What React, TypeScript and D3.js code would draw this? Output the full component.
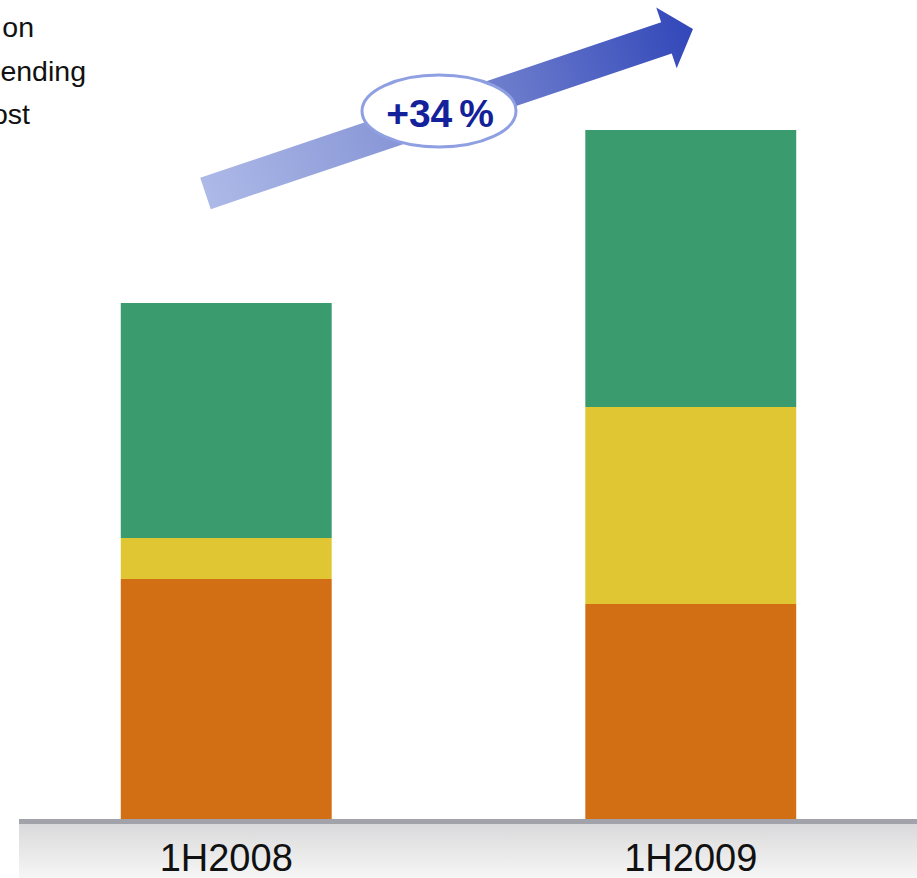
import { useEffect, useRef } from 'react';
import * as d3 from 'd3';

const periods = ['1H2008', '1H2009'];
const seriesKeys = ['cost', 'lending', 'commission'];
const costValues = [240, 215];
const lendingValues = [41, 197];
const commissionValues = [235, 277];
const legendLabels = ['on', 'ending', 'ost'];
const growthLabel = '+34 %';

const colors: Record<string, string> = {
  cost: '#d26f14',
  lending: '#e0c632',
  commission: '#3a9c6e',
};

export default function App() {
  const svgRef = useRef<SVGSVGElement>(null);

  useEffect(() => {
    if (!svgRef.current) return;
    const width = 917;
    const height = 878;
    const baseY = 819;

    const svg = d3.select(svgRef.current).attr('viewBox', `0 0 ${width} ${height}`);
    svg.selectAll('*').remove();

    const rows = periods.map((p, i) => ({
      period: p,
      cost: costValues[i],
      lending: lendingValues[i],
      commission: commissionValues[i],
    }));

    const x = d3.scaleBand<string>()
      .domain(periods)
      .range([0, width])
      .paddingInner(0.546)
      .paddingOuter(0.26);

    const y = d3.scaleLinear().domain([0, 700]).range([baseY, baseY - 700]);

    const stacked = d3.stack<any>().keys(seriesKeys)(rows);

    const defs = svg.append('defs');
    const floor = defs.append('linearGradient')
      .attr('id', 'floor').attr('x1', 0).attr('y1', 0).attr('x2', 0).attr('y2', 1);
    floor.append('stop').attr('offset', '0%').attr('stop-color', '#d9d9db');
    floor.append('stop').attr('offset', '100%').attr('stop-color', '#f6f6f6');

    const arrowLen = 514.5;
    const arrowGrad = defs.append('linearGradient')
      .attr('id', 'arrowGrad')
      .attr('gradientUnits', 'userSpaceOnUse')
      .attr('x1', 0).attr('y1', 0).attr('x2', arrowLen).attr('y2', 0);
    arrowGrad.append('stop').attr('offset', '0%').attr('stop-color', '#adb9e7');
    arrowGrad.append('stop').attr('offset', '50%').attr('stop-color', '#7d8cd2');
    arrowGrad.append('stop').attr('offset', '100%').attr('stop-color', '#3247b9');

    // bars
    svg.append('g')
      .selectAll('g')
      .data(stacked)
      .join('g')
      .attr('fill', d => colors[d.key])
      .selectAll('rect')
      .data(d => d)
      .join('rect')
      .attr('x', d => x(d.data.period)!)
      .attr('width', x.bandwidth())
      .attr('y', d => y(d[1]))
      .attr('height', d => y(d[0]) - y(d[1]));

    // floor band + axis line
    svg.append('rect')
      .attr('x', 19).attr('y', baseY + 4)
      .attr('width', width - 19).attr('height', height - baseY - 4)
      .attr('fill', 'url(#floor)');
    svg.append('rect')
      .attr('x', 19).attr('y', baseY)
      .attr('width', width - 19).attr('height', 5)
      .attr('fill', '#a2a2aa');

    svg.append('g')
      .selectAll('text')
      .data(periods)
      .join('text')
      .attr('x', d => x(d)! + x.bandwidth() / 2)
      .attr('y', 871)
      .attr('text-anchor', 'middle')
      .style('font-family', '"Liberation Sans", Arial, sans-serif')
      .style('font-size', '38px')
      .attr('fill', '#111')
      .text(d => d);

    // legend (cut at left edge, as in the source slide)
    const legendEnds = [34, 86, 30];
    svg.append('g')
      .selectAll('text')
      .data(legendLabels)
      .join('text')
      .attr('x', (_, i) => legendEnds[i])
      .attr('y', (_, i) => 37 + i * 43.5)
      .attr('text-anchor', 'end')
      .style('font-family', '"Liberation Sans", Arial, sans-serif')
      .style('font-size', '28.5px')
      .attr('fill', '#111')
      .text(d => d);

    // growth arrow
    const shaftHalf = 16.5;
    const headHalf = 32;
    const headLen = 28;
    const arrow = svg.append('g')
      .attr('transform', 'translate(205.5,193.5) rotate(-18.65)');
    arrow.append('path')
      .attr('d', d3.line()([
        [0, -shaftHalf],
        [arrowLen - headLen, -shaftHalf],
        [arrowLen - headLen, -headHalf],
        [arrowLen, 0],
        [arrowLen - headLen, headHalf],
        [arrowLen - headLen, shaftHalf],
        [0, shaftHalf],
      ]) + 'Z')
      .attr('fill', 'url(#arrowGrad)');

    svg.append('ellipse')
      .attr('cx', 439).attr('cy', 111)
      .attr('rx', 77).attr('ry', 36)
      .attr('fill', '#fff')
      .attr('stroke', '#8fa0e2')
      .attr('stroke-width', 3);

    svg.append('text')
      .attr('x', 440).attr('y', 127)
      .attr('text-anchor', 'middle')
      .style('font-family', '"Liberation Sans", Arial, sans-serif')
      .style('font-size', '39px')
      .style('font-weight', 'bold')
      .style('word-spacing', '-4px')
      .attr('fill', '#13229a')
      .text(growthLabel);
  }, []);

  return (
    <svg
      ref={svgRef}
      width={917}
      height={878}
      style={{ position: 'fixed', top: 0, left: 0, background: '#fff' }}
    />
  );
}
